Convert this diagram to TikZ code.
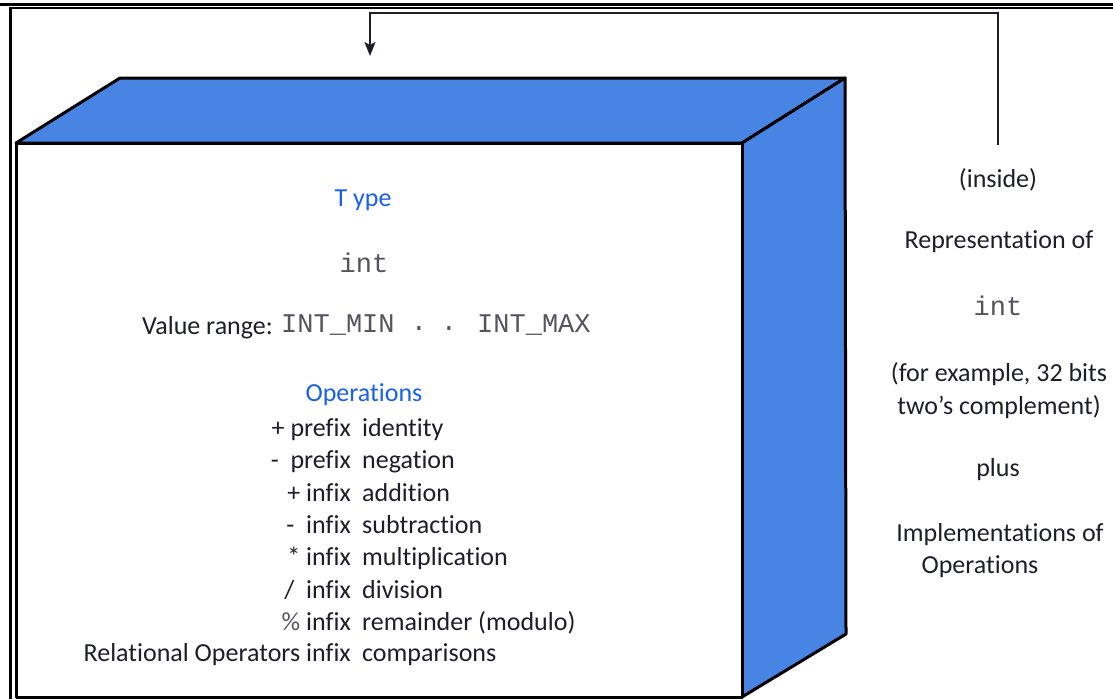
\documentclass[tikz,border=0pt]{standalone}
\usepackage{fontspec}
\setmainfont{Carlito}[Ligatures=NoCommon]
\setmonofont{Liberation Mono}
\usetikzlibrary{arrows.meta}
\definecolor{boxblue}{RGB}{72,132,228}
\definecolor{tblue}{RGB}{25,95,240}
\definecolor{ink}{RGB}{30,30,42}
\definecolor{monogray}{RGB}{85,85,92}
\begin{document}
\begin{tikzpicture}[x=1pt,y=-1pt,
  txt/.style={font=\fontsize{26}{29}\selectfont, text=ink, inner sep=0pt},
  ttl/.style={txt, text=tblue},
  code/.style={font=\fontsize{27}{30}\ttfamily, text=monogray, inner sep=0pt},
  face/.style={fill=boxblue, draw=black, line width=3pt, line join=round},
  frontface/.style={fill=white, draw=black, line width=3pt, line join=round},
  frameline/.style={draw=black, line width=3pt},
  link/.style={draw=ink, line width=1.4pt, -{Stealth[length=14pt,width=11pt,inset=3pt]}}
]
\useasboundingbox (0,0) rectangle (1113,699);
% frame
\draw[frameline] (0,4) -- (1113,4);
\draw[draw=black, line width=2pt] (10,8) -- (1113,8);
\draw[frameline] (10,7) -- (10,699);
% box
\draw[face] (16,143) -- (120,78) -- (845,78) -- (742,143) -- cycle;
\draw[face] (742,143) -- (845,78) -- (846,634) -- (742,697) -- cycle;
\draw[frontface] (16,143) rectangle (742,697);
% left texts
\node[ttl] (type) at (363,200) {T ype};
\node[code] (int1) at (364,263) {int};
\node[txt, anchor=mid east] (vr) at (273,332) {Value range:};
\node[code, anchor=mid west] (imin) at (281,330) {INT\_MIN};
\node[code] (d1) at (419,329) {.};
\node[code] (d2) at (449,329) {.};
\node[code, anchor=mid west] (imax) at (477,330) {INT\_MAX};
\node[ttl] (ops) at (364,395) {Operations};
\foreach \i/\y/\a/\b in {
  1/428/{+ prefix}/identity,
  2/460/{-\ \ prefix}/negation,
  3/493/{+ infix}/addition,
  4/525/{-\ \ infix}/subtraction,
  5/557/{* infix}/multiplication,
  6/590/{/ \ infix}/division,
  7/622/{{\color{monogray}\%} infix}/{remainder (modulo)},
  8/653/{Relational Operators infix}/comparisons}
{
  \node[txt, anchor=mid east] (l\i) at (351,\y+6) {\a};
  \node[txt, anchor=mid west] (r\i) at (362,\y+6) {\b};
}
% right texts
\node[txt] (inside) at (998,180) {(inside)};
\node[txt] (repr) at (999,242) {Representation of};
\node[code] (int2) at (998,306) {int};
\node[txt] (ex1) at (999,374) {(for example, 32 bits};
\node[txt] (ex2) at (999,407) {two{\char"27}s complement)};
\node[txt] (plus) at (998,470) {plus};
\node[txt] (impl1) at (1000,535) {Implementations of};
\node[txt] (impl2) at (980,567) {Operations};
% connector
\coordinate (src) at (998,145);
\coordinate (c1) at (998,13);
\coordinate (c2) at (370,13);
\coordinate (dst) at (370,56);
\draw[link] (src) -- (c1) -- (c2) -- (dst);
\end{tikzpicture}
\end{document}
